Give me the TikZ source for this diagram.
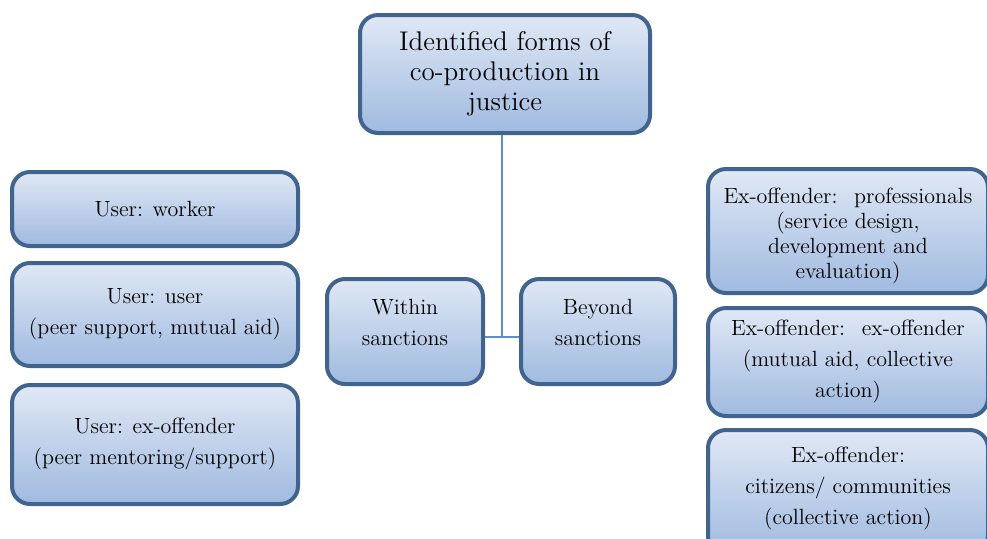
\documentclass[tikz,border=0pt]{standalone}
\usepackage{xcolor}
\usepackage{tikz}

\definecolor{boxedge}{RGB}{65,100,143}
\definecolor{boxtop}{RGB}{224,232,245}
\definecolor{boxbot}{RGB}{160,186,224}
\definecolor{linkblue}{RGB}{91,143,207}

\tikzset{
  formbox/.style={draw=boxedge, line width=2pt, rounded corners=9pt,
    top color=boxtop, bottom color=boxbot, align=center, inner sep=2pt,
    font=\fontsize{11}{15.5}\selectfont},
  link/.style={draw=linkblue, line width=1pt},
}

\begin{document}
\begin{tikzpicture}[x=0.5pt, y=-0.5pt]
  \useasboundingbox (0,0) rectangle (987,538);

  % Top box
  \node[formbox, minimum width=145pt, minimum height=59pt,
        font=\fontsize{13.5}{15}\selectfont] (forms) at (505,74)
        {Identified forms of\\co-production in\\justice};

  % Middle pair
  \node[formbox, minimum width=78pt, minimum height=52.5pt, text depth=9pt] (within) at (405,331.5)
        {Within\\sanctions};
  \node[formbox, minimum width=77pt, minimum height=52.5pt, text depth=9pt] (beyond) at (598,331.5)
        {Beyond\\sanctions};

  % Left column
  \node[formbox, minimum width=143pt, minimum height=37pt] (worker) at (155,209)
        {User: worker};
  \node[formbox, minimum width=143pt, minimum height=51.5pt] (useruser) at (155,314.5)
        {User: user\\(peer support, mutual aid)};
  \node[formbox, minimum width=143pt, minimum height=59.5pt] (userex) at (155,444.5)
        {User: ex-offender\\(peer mentoring/support)};

  % Right column
  \node[formbox, minimum width=140pt, minimum height=62pt,
        font=\fontsize{11}{12.5}\selectfont] (prof) at (848,231)
        {\rule{0pt}{12.7pt}Ex-offender:~ professionals\\(service design,\\development and\\evaluation)};
  \node[formbox, minimum width=140pt, minimum height=54pt] (exex) at (848,362)
        {Ex-offender:~ ex-offender\\(mutual aid, collective\\action)};
  \node[formbox, minimum width=140pt, minimum height=62pt, text depth=6.5pt] (citizens) at (848,492)
        {Ex-offender:\\citizens/ communities\\(collective action)};

  % Connectors
  \coordinate (joint) at (502,337);
  \draw[link] (forms.south -| joint) -- (joint);
  \draw[link] (within.east |- joint) -- (beyond.west |- joint);
\end{tikzpicture}
\end{document}
